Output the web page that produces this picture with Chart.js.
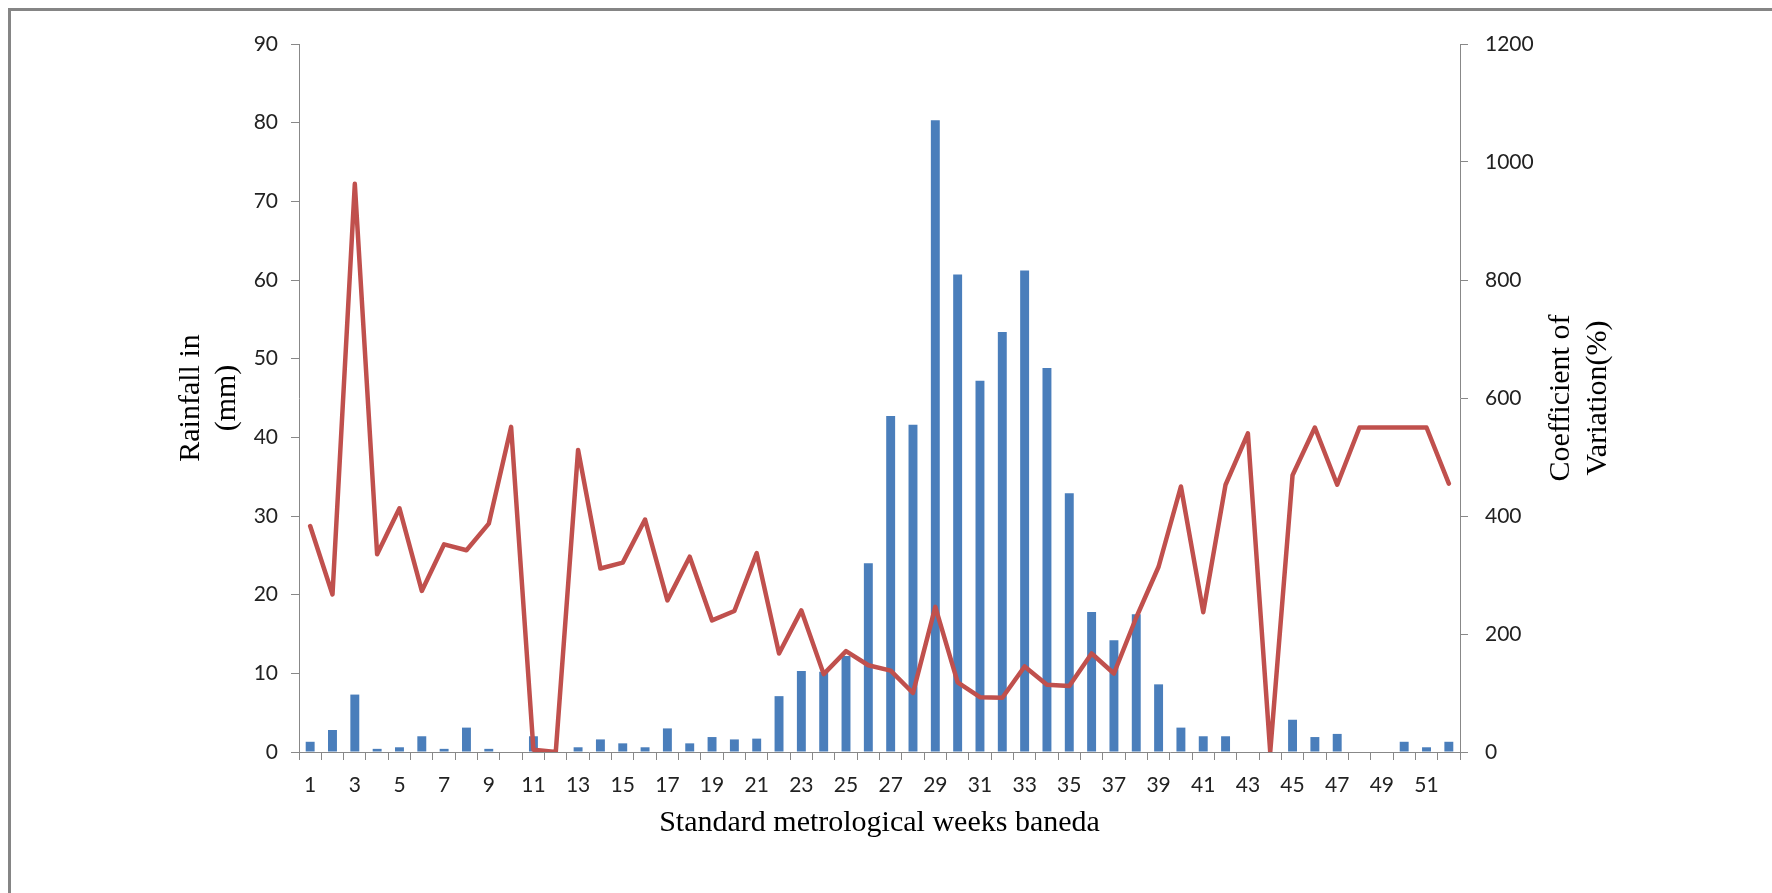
<!DOCTYPE html>
<html>
<head>
<meta charset="utf-8">
<script src="https://cdn.jsdelivr.net/npm/chart.js@4.4.0/dist/chart.umd.min.js"></script>
<style>
  html, body { margin: 0; padding: 0; background: #fff; }
  #wrap { position: relative; width: 1772px; height: 893px; }
</style>
</head>
<body>
<div id="wrap"><canvas id="chart" width="1772" height="893"></canvas></div>
<script>
// Standard meteorological weeks
const weeks = ['1','2','3','4','5','6','7','8','9','10','11','12','13','14','15','16','17','18','19','20',
  '21','22','23','24','25','26','27','28','29','30','31','32','33','34','35','36','37','38','39','40',
  '41','42','43','44','45','46','47','48','49','50','51','52'];

// Weekly rainfall (mm), left axis
const rainfall = [1.3, 2.8, 7.3, 0.4, 0.6, 2.0, 0.4, 3.1, 0.4, 0, 2.0, 0, 0.6, 1.6, 1.1, 0.6, 3.0, 1.1, 1.9, 1.6,
  1.7, 7.1, 10.3, 10.2, 12.2, 24.0, 42.7, 41.6, 80.3, 60.7, 47.2, 53.4, 61.2, 48.8, 32.9, 17.8, 14.2, 17.5, 8.6, 3.1,
  2.0, 2.0, 0, 0, 4.1, 1.9, 2.3, 0, 0, 1.3, 0.6, 1.3];

// Coefficient of variation (%), right axis
const cv = [383, 267, 963, 335, 413, 273, 352, 342, 387, 551, 4, 0, 512, 311, 321, 394, 257, 331, 223, 239,
  337, 167, 240, 132, 171, 147, 138, 100, 246, 118, 93, 92, 145, 114, 112, 167, 133, 228, 314, 450,
  237, 453, 540, 0, 469, 550, 453, 550, 550, 550, 550, 455];

const xTitle = 'Standard metrological weeks baneda';
const leftTitle = ['Rainfall in', '(mm)'];
const rightTitle = ['Coefficient of', 'Variation(%)'];

const tickFont = { family: 'Lato', size: 21 };
const titleFont = { family: 'Liberation Serif', size: 30 };
const axisGray = '#888888';

// white background plus the grey frame on top and left
const framePlugin = {
  id: 'frame',
  beforeDraw(chart) {
    const ctx = chart.ctx;
    ctx.save();
    ctx.fillStyle = '#ffffff';
    ctx.fillRect(0, 0, chart.width, chart.height);
    ctx.fillStyle = '#858585';
    ctx.fillRect(8, 8, chart.width - 8, 3);
    ctx.fillRect(8, 8, 3, chart.height - 8);
    ctx.restore();
  }
};

// right axis title reads bottom-to-top, like the left one
const rightTitlePlugin = {
  id: 'rightTitle',
  afterDraw(chart) {
    const ctx = chart.ctx;
    const area = chart.chartArea;
    const s = chart.scales.y1;
    const cy = (area.top + area.bottom) / 2;
    ctx.save();
    ctx.font = titleFont.size + 'px "' + titleFont.family + '"';
    ctx.fillStyle = '#000';
    ctx.textAlign = 'center';
    ctx.textBaseline = 'middle';
    rightTitle.forEach((line, i) => {
      ctx.save();
      ctx.translate(s.left + 101 + i * 37, cy);
      ctx.rotate(-Math.PI / 2);
      ctx.fillText(line, 0, 0);
      ctx.restore();
    });
    ctx.restore();
  }
};

new Chart(document.getElementById('chart'), {
  data: {
    labels: weeks,
    datasets: [
      {
        type: 'line',
        data: cv,
        yAxisID: 'y1',
        borderColor: '#C0504D',
        borderWidth: 4.5,
        borderJoinStyle: 'round',
        borderCapStyle: 'round',
        pointRadius: 0,
        tension: 0,
        order: 0
      },
      {
        type: 'bar',
        data: rainfall,
        yAxisID: 'y',
        backgroundColor: '#4A7EBB',
        barPercentage: 0.4,
        categoryPercentage: 1,
        order: 1
      }
    ]
  },
  options: {
    responsive: false,
    animation: false,
    layout: { padding: { top: 44, left: 0, right: 0, bottom: 0 } },
    plugins: { legend: { display: false }, tooltip: { enabled: false } },
    scales: {
      x: {
        offset: true,
        grid: { offset: true, drawOnChartArea: false, color: axisGray, tickLength: 8 },
        border: { color: axisGray, width: 1 },
        ticks: {
          autoSkip: false, maxRotation: 0, padding: 13, color: '#222', font: tickFont,
          callback: (v, i) => (i % 2 === 0 ? weeks[i] : '')
        },
        title: { display: true, text: xTitle, color: '#000', font: titleFont, padding: { top: 0, bottom: 52 } },
        afterFit(s) { s.height = 141; }
      },
      y: {
        position: 'left',
        min: 0, max: 90,
        grid: { drawOnChartArea: false, color: axisGray, tickLength: 8 },
        border: { color: axisGray, width: 1 },
        ticks: { stepSize: 10, padding: 13, color: '#222', font: tickFont },
        title: { display: true, text: leftTitle, color: '#000', font: titleFont, padding: { top: 173, bottom: 0 } },
        afterFit(s) { s.width = 299; }
      },
      y1: {
        position: 'right',
        min: 0, max: 1200,
        grid: { drawOnChartArea: false, color: axisGray, tickLength: 8 },
        border: { color: axisGray, width: 1 },
        ticks: { stepSize: 200, padding: 17, color: '#222', font: tickFont, callback: (v) => String(v) },
        afterFit(s) { s.width = 312; }
      }
    }
  },
  plugins: [framePlugin, rightTitlePlugin]
});
</script>
</body>
</html>
